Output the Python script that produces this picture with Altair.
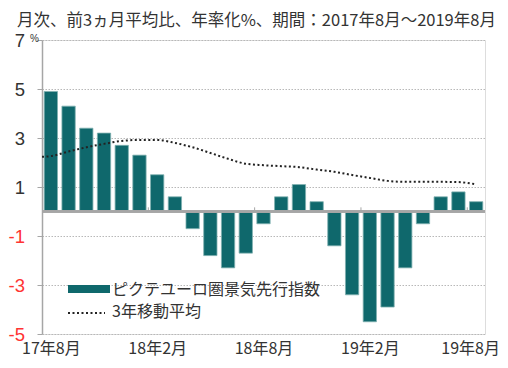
import altair as alt
import pandas as pd

# ---- data ----
months = ["2017-08","2017-09","2017-10","2017-11","2017-12","2018-01","2018-02","2018-03",
          "2018-04","2018-05","2018-06","2018-07","2018-08","2018-09","2018-10","2018-11",
          "2018-12","2019-01","2019-02","2019-03","2019-04","2019-05","2019-06","2019-07","2019-08"]
index_vals = [4.9, 4.3, 3.4, 3.2, 2.7, 2.3, 1.5, 0.6, -0.7, -1.8, -2.3, -1.7, -0.5,
              0.6, 1.1, 0.4, -1.4, -3.4, -4.5, -3.9, -2.3, -0.5, 0.6, 0.8, 0.4]
ma_pos = [-0.5] + list(range(25))
ma_vals = [2.23, 2.26, 2.45, 2.62, 2.76, 2.88, 2.92, 2.92, 2.80, 2.62, 2.39, 2.15, 1.95,
           1.89, 1.85, 1.81, 1.71, 1.62, 1.49, 1.37, 1.25, 1.21, 1.21, 1.21, 1.20, 1.11]
tick_label_pos = [0, 6, 12, 18, 24]
tick_labels = ["17年8月", "18年2月", "18年8月", "19年2月", "19年8月"]
boundary_pos = [5.5, 11.5, 17.5, 23.5]
y_ticks = [-5, -3, -1, 1, 3, 5, 7]
title_text = "月次、前3ヵ月平均比、年率化%、期間：2017年8月～2019年8月"
legend_bar = "ピクテユーロ圏景気先行指数"
legend_line = "3年移動平均"

bars_df = pd.DataFrame({"m": months, "i": list(range(len(months))), "v": index_vals})
ma_df = pd.DataFrame({"i": ma_pos, "v": ma_vals})
bnd_df = pd.DataFrame({"i": boundary_pos})

FONT = "Noto Sans CJK JP"
TEAL = "#0f686c"
label_expr = "[" + ",".join("'%s'" % t for t in tick_labels) + "][datum.value/6]"

xscale = alt.Scale(domain=[-0.5, 24.5], nice=False, zero=False)
yscale = alt.Scale(domain=[-5, 7], nice=False)

xaxis = alt.Axis(values=tick_label_pos, labelExpr=label_expr, title=None, domain=False,
                 ticks=False, grid=False, labelFont=FONT, labelFontSize=16,
                 labelColor="#333", labelPadding=6,
                 labelOffset={"expr": "datum.value == 24 ? -6 : 0"})
yaxis = alt.Axis(values=y_ticks, title=None, grid=True, gridDash=[1.5, 1.5],
                 gridColor="#b8b8b8", gridWidth=1, domain=True, domainColor="#a6a6a6",
                 domainWidth=1.5, tickColor="#a6a6a6", tickSize=5, tickWidth=1,
                 labelFont="Liberation Sans", labelFontSize=18.5, labelPadding=12.5,
                 labelExpr="datum.value < 0 ? '-' + abs(datum.value) : '' + datum.value",
                 labelColor={"expr": "datum.value < 0 ? '#ff3333' : '#333333'"})

bars = alt.Chart(bars_df).transform_calculate(
    x1="datum.i - 0.375", x2="datum.i + 0.375"
).mark_bar(color=TEAL, stroke="#7fb0b0", strokeWidth=0.8).encode(
    x=alt.X("x1:Q", scale=xscale, axis=xaxis),
    x2="x2:Q",
    y=alt.Y("v:Q", scale=yscale, axis=yaxis),
    y2=alt.datum(0),
)

zero = alt.Chart(bars_df).mark_rule(color="#a6a6a6", strokeWidth=1.5).encode(
    x=alt.datum(-0.5), x2=alt.datum(24.5), y=alt.datum(0)
)

bticks = alt.Chart(bnd_df).mark_rule(color="#a6a6a6", strokeWidth=1).encode(
    x=alt.X("i:Q", scale=xscale), y=alt.datum(0), y2=alt.datum(0.17)
)

line = alt.Chart(ma_df).mark_line(color="#222", strokeWidth=2, strokeDash=[2, 2.5],
                                  interpolate="monotone").encode(
    x=alt.X("i:Q", scale=xscale), y=alt.Y("v:Q", scale=yscale)
)

# ---- annotations (title, unit, legend) ----
ann = pd.DataFrame({"t": [title_text]})
title = alt.Chart(ann).mark_text(align="left", baseline="middle", font=FONT, fontSize=16.5,
                                 color="#333").encode(
    text=alt.value(title_text), x=alt.value(-25), y=alt.value(-19.5))
pct = alt.Chart(ann).mark_text(align="left", baseline="middle", font="Liberation Sans",
                               fontSize=10, color="#333").encode(
    text=alt.value("%"), x=alt.value(-12), y=alt.value(-1.5))

leg_rect = alt.Chart(ann).mark_rect(color=TEAL).encode(
    x=alt.value(26), x2=alt.value(68), y=alt.value(245), y2=alt.value(253))
leg_line = alt.Chart(ann).mark_rule(color="#222", strokeWidth=2, strokeDash=[2, 2.5]).encode(
    x=alt.value(26), x2=alt.value(63), y=alt.value(273))
leg_t1 = alt.Chart(ann).mark_text(align="left", baseline="middle", font=FONT, fontSize=16,
                                  color="#333").encode(
    text=alt.value(legend_bar), x=alt.value(70), y=alt.value(250))
leg_t2 = alt.Chart(ann).mark_text(align="left", baseline="middle", font=FONT, fontSize=16,
                                  color="#333").encode(
    text=alt.value(legend_line), x=alt.value(70), y=alt.value(272))

chart = alt.layer(bars, zero, bticks, line, title, pct, leg_rect, leg_line, leg_t1, leg_t2
).properties(
    width=443, height=294,
    autosize=alt.AutoSizeParams(type="none"),
    padding={"left": 34, "top": 32, "right": 15, "bottom": 26},
).configure_view(stroke=None).configure(background="white")

chart.save("out.html", embed_options={"renderer": "svg", "actions": False})
